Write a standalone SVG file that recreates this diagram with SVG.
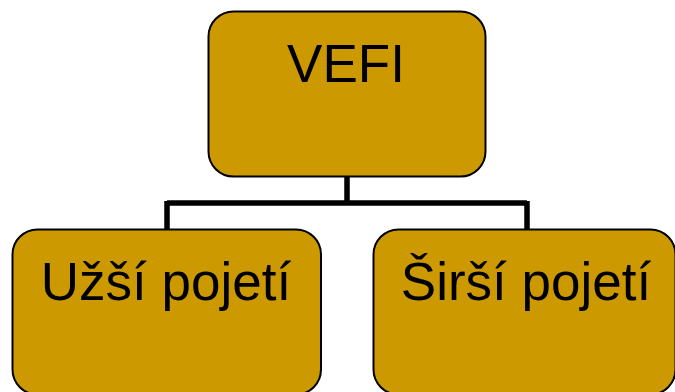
<svg xmlns="http://www.w3.org/2000/svg" width="675" height="392" viewBox="0 0 675 392">
<style>
.box{fill:#CC9900;stroke:#000;stroke-width:2}
.lbl{font-family:"Liberation Sans",Arial,sans-serif;font-size:53px;fill:#000;text-anchor:middle}
.conn{fill:none;stroke:#000;stroke-width:5.5}
</style>
<rect width="675" height="392" fill="#fff"/>
<g id="connectors">
<path class="conn" d="M347 176V203M167 203H527M167 201V230M527 201V230"/>
</g>
<g id="vefi">
<rect class="box" x="208.5" y="11.5" width="277" height="165" rx="25"/>
<text class="lbl" x="346" y="82">VEFI</text>
</g>
<g id="uzsi">
<rect class="box" x="12.5" y="229.5" width="308.5" height="165" rx="25"/>
<text class="lbl" x="166" y="300">Užší pojetí</text>
</g>
<g id="sirsi">
<rect class="box" x="373.5" y="229.5" width="302" height="165" rx="25"/>
<text class="lbl" x="526" y="300">Širší pojetí</text>
</g>
</svg>
